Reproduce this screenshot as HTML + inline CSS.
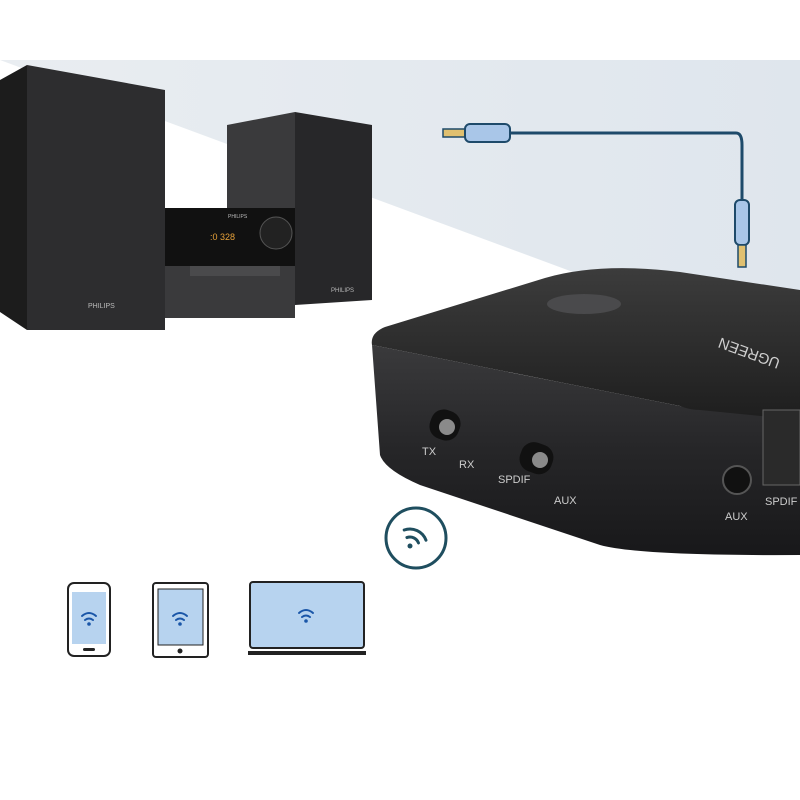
<!DOCTYPE html>
<html><head><meta charset="utf-8"><style>body{margin:0;background:#fff}svg{display:block}</style></head><body>
<svg width="800" height="800" viewBox="0 0 800 800" xmlns="http://www.w3.org/2000/svg" font-family="Liberation Sans, sans-serif">
<defs>
<linearGradient id="bg" x1="0" y1="0" x2="1" y2="0"><stop offset="0" stop-color="#e9edf1"/><stop offset="1" stop-color="#dfe6ed"/></linearGradient>
<linearGradient id="top" x1="0" y1="0" x2="0" y2="1"><stop offset="0" stop-color="#3c3c3c"/><stop offset="1" stop-color="#1e1e1e"/></linearGradient>
<linearGradient id="front" x1="0" y1="0" x2="0" y2="1"><stop offset="0" stop-color="#3a3a3c"/><stop offset="0.5" stop-color="#262628"/><stop offset="1" stop-color="#18181a"/></linearGradient>
</defs>
<polygon points="0,60 800,60 800,356 0,60" fill="url(#bg)"/>
<!-- left speaker -->
<polygon points="0,80 27,65 27,330 0,312" fill="#1c1c1c"/>
<polygon points="27,65 165,90 165,330 27,330" fill="#2d2d2f"/>
<text x="88" y="308" font-size="7" fill="#bbb">PHILIPS</text>
<!-- right speaker -->
<polygon points="227,125 295,112 295,300 227,300" fill="#3a3a3c"/>
<polygon points="295,112 372,125 372,300 295,305" fill="#272729"/>
<text x="331" y="292" font-size="6" fill="#bbb">PHILIPS</text>
<!-- center unit -->
<rect x="165" y="208" width="130" height="110" fill="#3a3a3c"/>
<rect x="165" y="208" width="130" height="58" fill="#111"/>
<text x="210" y="240" font-size="9" fill="#e8a23a">:0  328</text>
<text x="228" y="218" font-size="5" fill="#bbb">PHILIPS</text>
<circle cx="276" cy="233" r="16" fill="#222" stroke="#555"/>
<rect x="190" y="266" width="90" height="10" fill="#4a4a4c"/>
<!-- cable -->
<path d="M510,133 H736 Q742,133 742,145 V200" fill="none" stroke="#1e4a6a" stroke-width="3"/>
<rect x="443" y="129" width="22" height="8" fill="#e0c070" stroke="#1e4a6a" stroke-width="1.5"/>
<rect x="465" y="124" width="45" height="18" rx="5" fill="#a9c6e8" stroke="#1e4a6a" stroke-width="2"/>
<rect x="735" y="200" width="14" height="45" rx="5" fill="#a9c6e8" stroke="#1e4a6a" stroke-width="2"/>
<rect x="738" y="245" width="8" height="22" fill="#e0c070" stroke="#1e4a6a" stroke-width="1.5"/>
<!-- device -->
<path d="M372,345 L380,455 Q385,470 420,485 L600,545 Q640,556 800,555 L800,415 L690,408 Z" fill="url(#front)"/>
<path d="M372,345 Q370,333 385,327 L545,278 Q600,262 680,272 L800,290 L800,420 L700,410 Q690,410 680,406 Z" fill="url(#top)"/>
<ellipse cx="584" cy="304" rx="37" ry="10" fill="#4a4a4c"/>
<text x="700" y="365" font-size="15" fill="#cfcfcf" transform="rotate(200 740 355)">UGREEN</text>
<rect x="430" y="410" width="30" height="30" rx="13" fill="#111" transform="rotate(20 445 425)"/>
<circle cx="447" cy="427" r="8" fill="#8a8a8a"/>
<rect x="520" y="443" width="33" height="30" rx="13" fill="#111" transform="rotate(20 536 458)"/>
<circle cx="540" cy="460" r="8" fill="#8a8a8a"/>
<text x="422" y="455" font-size="11" fill="#ccc">TX</text>
<text x="459" y="468" font-size="11" fill="#ccc">RX</text>
<text x="498" y="483" font-size="11" fill="#ccc">SPDIF</text>
<text x="554" y="504" font-size="11" fill="#ccc">AUX</text>
<circle cx="737" cy="480" r="14" fill="#111" stroke="#555" stroke-width="2"/>
<text x="725" y="520" font-size="11" fill="#ccc">AUX</text>
<rect x="763" y="410" width="37" height="75" fill="#2a2a2a" stroke="#666"/>
<text x="765" y="505" font-size="11" fill="#ccc">SPDIF</text>
<!-- wifi circle -->
<circle cx="416" cy="538" r="30" fill="#fff" stroke="#1f4e5f" stroke-width="3"/>
<circle cx="410" cy="546" r="2.5" fill="#1f4e5f"/>
<path d="M410,537 A9,9 0 0 1 419,546 M410,529 A17,17 0 0 1 427,546" fill="none" stroke="#1f4e5f" stroke-width="3" stroke-linecap="round" transform="rotate(-20 410 546)"/>
<!-- phone -->
<rect x="68" y="583" width="42" height="73" rx="6" fill="#fff" stroke="#222" stroke-width="2"/>
<rect x="72" y="592" width="34" height="52" fill="#b7d3ef"/>
<rect x="83" y="648" width="12" height="3" rx="1.5" fill="#222"/>
<!-- tablet -->
<rect x="153" y="583" width="55" height="74" rx="3" fill="#fff" stroke="#222" stroke-width="2"/>
<rect x="158" y="589" width="45" height="56" fill="#b7d3ef" stroke="#222" stroke-width="1"/>
<circle cx="180" cy="651" r="2.5" fill="#222"/>
<!-- laptop -->
<rect x="250" y="582" width="114" height="66" rx="3" fill="#b7d3ef" stroke="#222" stroke-width="2"/>
<rect x="248" y="651" width="118" height="4" fill="#222"/>
<g fill="none" stroke="#1a56a8" stroke-width="2" stroke-linecap="round">
<path d="M82,616 Q89,610 96,616 M85,620 Q89,617 93,620"/>
<path d="M173,616 Q180,610 187,616 M176,620 Q180,617 184,620"/>
<path d="M299,613 Q306,607 313,613 M302,617 Q306,614 310,617"/>
</g>
<g fill="#1a56a8"><circle cx="89" cy="624" r="1.8"/><circle cx="180" cy="624" r="1.8"/><circle cx="306" cy="621" r="1.8"/></g>
</svg>
</body></html>
